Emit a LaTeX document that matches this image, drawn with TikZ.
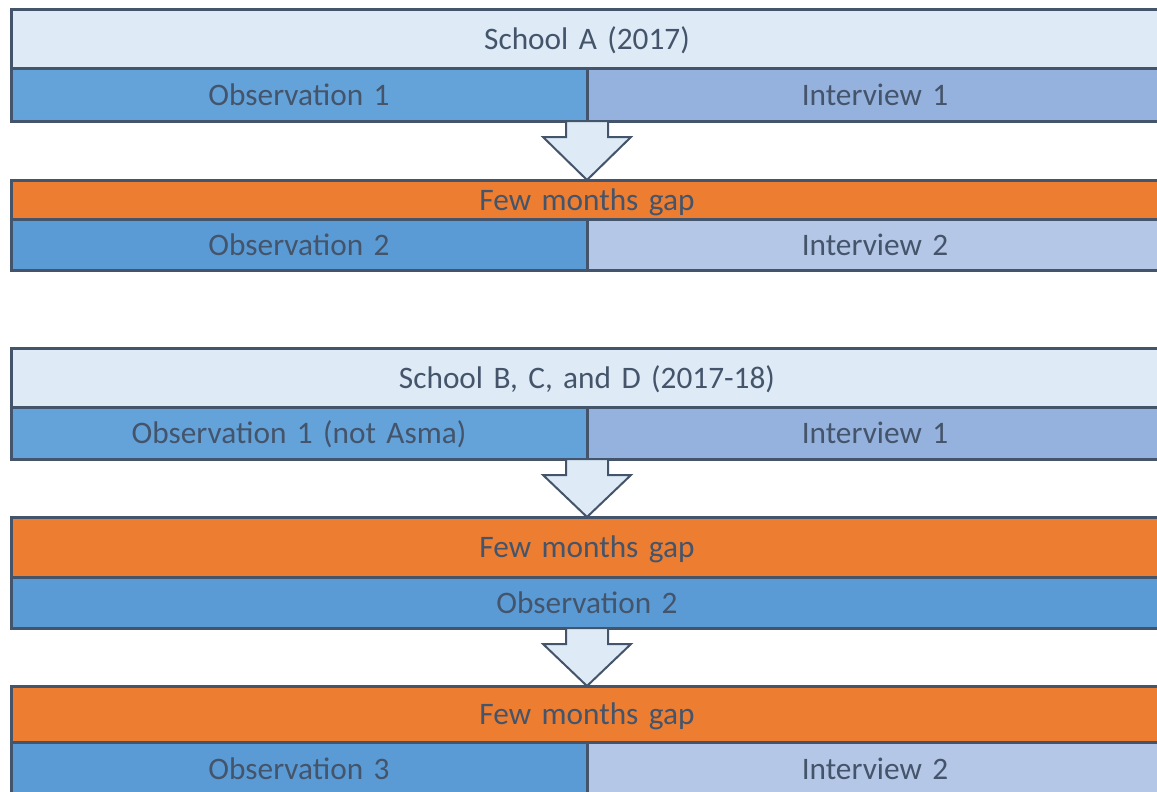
\documentclass[tikz,border=0pt]{standalone}
\usepackage{fontspec}
\setmainfont[WordSpace=0.7]{Carlito}
\usetikzlibrary{calc}
\definecolor{paleblue}{HTML}{DEEAF6}
\definecolor{obsblue}{HTML}{64A2DA}
\definecolor{obsdeep}{HTML}{5B9BD5}
\definecolor{intmid}{HTML}{95B2DE}
\definecolor{intlight}{HTML}{B4C7E7}
\definecolor{gaporange}{HTML}{ED7D31}
\definecolor{slate}{HTML}{44546A}
\tikzset{
  cell/.style={draw=slate, line width=3pt, anchor=north west, inner sep=0pt, outer sep=0pt,
    text=slate, font=\fontsize{31.3}{36}\selectfont, text height=26pt, text depth=5pt},
  full/.style={cell, minimum width=1152, text width=1152, align=center},
  half/.style={cell, minimum width=576, text width=576, align=center},
  header/.style={full, fill=paleblue, minimum height=59},
  gaprow/.style={full, fill=gaporange},
  obsrow/.style={half, fill=obsblue, minimum height=52},
  obsrowdeep/.style={half, fill=obsdeep, minimum height=51},
  introw/.style={half, fill=intmid, minimum height=52},
  introwlight/.style={half, fill=intlight, minimum height=51},
  blockarrow/.style={draw=slate, fill=paleblue, line width=2pt, line join=miter}
}
% block arrow pointing down from the split point of one row to the top of the next block
\newcommand\stagearrow[2]{%
  \draw[blockarrow]
    ($(#1)+(-21,0)$) -- ($(#1)+(-21,16)$) -- ($(#1)+(-44,16)$) --
    (#1 |- #2) --
    ($(#1)+(44,16)$) -- ($(#1)+(21,16)$) -- ($(#1)+(21,0)$) -- cycle;}
\begin{document}
\begin{tikzpicture}[x=1pt, y=-1pt]
  \useasboundingbox (0,0) rectangle (1157,792);

  % School A
  \node[header] (ha) at (11,10) {School A (2017)};
  \node[obsrow] (oa1) at (11,69) {Observation 1};
  \node[introw] (ia1) at (587,69) {Interview 1};
  \node[gaprow, minimum height=39] (ga1) at (11,180) {Few months gap};
  \node[obsrowdeep] (oa2) at (11,219) {Observation 2};
  \node[introwlight] (ia2) at (587,219) {Interview 2};

  % Schools B, C and D
  \node[header] (hb) at (11,348) {School B, C, and D (2017-18)};
  \node[obsrow] (ob1) at (11,407) {Observation 1 (not Asma)};
  \node[introw] (ib1) at (587,407) {Interview 1};
  \node[gaprow, minimum height=60] (gb1) at (11,517) {Few months gap};
  \node[full, fill=obsdeep, minimum height=51] (ob2) at (11,577) {Observation 2};
  \node[gaprow, minimum height=56] (gb2) at (11,686) {Few months gap};
  \node[obsrowdeep, minimum height=53] (ob3) at (11,742) {Observation 3};
  \node[introwlight, minimum height=53] (ib2) at (587,742) {Interview 2};

  % transitions
  \coordinate (sa) at (oa1.south east);
  \coordinate (sb) at (ob1.south east);
  \coordinate (sc) at ($(ob2.south west)!0.5!(ob2.south east)$);
  \stagearrow{sa}{ga1.north}
  \stagearrow{sb}{gb1.north}
  \stagearrow{sc}{gb2.north}
\end{tikzpicture}
\end{document}
